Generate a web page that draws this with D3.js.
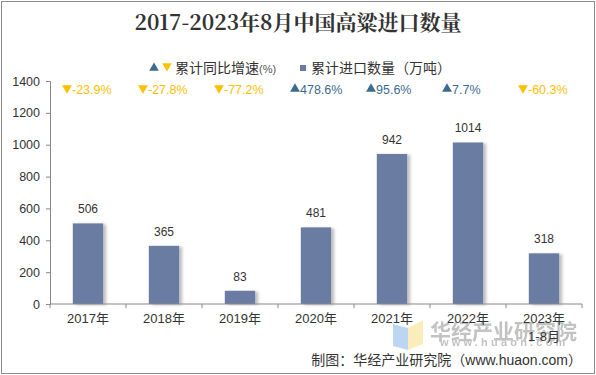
<!DOCTYPE html>
<html>
<head>
<meta charset="utf-8">
<script src="https://cdn.jsdelivr.net/npm/d3@7"></script>
<style>
  body { margin: 0; background: #fff; }
  svg text { font-family: "Liberation Sans", Arial, "Noto Sans CJK SC", sans-serif; }
</style>
</head>
<body>
<div id="chart"></div>
<script>
'use strict';

// data
const years = ["2017年", "2018年", "2019年", "2020年", "2021年", "2022年", "2023年"];
const volumes = [506, 365, 83, 481, 942, 1014, 318];   // 累计进口数量（万吨）
const growth = [-23.9, -27.8, -77.2, 478.6, 95.6, 7.7, -60.3]; // 累计同比增速(%)
const yTicks = [0, 200, 400, 600, 800, 1000, 1200, 1400];

const width = 596, height = 375;
const margin = { top: 81, right: 14, bottom: 71, left: 50 };
const barColor = "#6a7ba2";
const upColor = "#3b6b8e";
const downColor = "#ffc000";

const svg = d3.select("#chart")
	.append("svg")
		.attr("width", width)
		.attr("height", height);

// outer frame
svg.append("rect")
	.attr("x", 1.5).attr("y", 1.5)
	.attr("width", width - 3).attr("height", height - 3)
	.attr("fill", "#fff")
	.attr("stroke", "#8c8c8c");

// title
svg.append("text")
	.attr("x", 298)
	.attr("y", 30)
	.attr("text-anchor", "middle")
	.style("font-family", "'Noto Serif CJK SC', 'Liberation Serif', 'Noto Sans CJK SC', serif")
	.attr("font-size", 21)
	.attr("font-weight", "bold")
	.attr("fill", "#333")
	.text("2017-2023年8月中国高粱进口数量");

const x = d3.scaleBand()
	.domain(years)
	.range([margin.left, width - margin.right])
	.paddingInner(0.6)
	.paddingOuter(0.3);

const y = d3.scaleLinear()
	.domain([0, 1400])
	.range([height - margin.bottom, margin.top]);

// legend
const legend = svg.append("g").attr("transform", "translate(0,68)");
const tri = d3.symbol().type(d3.symbolTriangle).size(40);
legend.append("path").attr("d", tri).attr("fill", upColor)
	.attr("transform", "translate(154,0)");
legend.append("path").attr("d", tri).attr("fill", downColor)
	.attr("transform", "translate(167,-2) rotate(180)");
const lt = legend.append("text")
	.attr("x", 175).attr("y", 5)
	.attr("font-size", 14).attr("fill", "#333");
lt.append("tspan").text("累计同比增速");
lt.append("tspan").attr("font-size", 11).attr("fill", "#555").text("(%)");
legend.append("rect")
	.attr("x", 300).attr("y", -3)
	.attr("width", 6).attr("height", 6)
	.attr("fill", barColor);
legend.append("text")
	.attr("x", 311).attr("y", 5)
	.attr("font-size", 14).attr("fill", "#333")
	.text("累计进口数量（万吨）");

// bars with a soft shadow
const defs = svg.append("defs");
const filt = defs.append("filter").attr("id", "shadow")
	.attr("x", "-20%").attr("y", "-10%").attr("width", "150%").attr("height", "120%");
filt.append("feDropShadow")
	.attr("dx", 3).attr("dy", 1).attr("stdDeviation", 1.5)
	.attr("flood-color", "#000").attr("flood-opacity", 0.25);

svg.append("g")
	.selectAll("rect")
	.data(volumes)
	.join("rect")
		.attr("x", (d, i) => x(years[i]))
		.attr("y", d => y(d))
		.attr("width", x.bandwidth())
		.attr("height", d => y(0) - y(d))
		.attr("fill", barColor)
		.attr("filter", "url(#shadow)");

// value labels
svg.append("g")
	.selectAll("text")
	.data(volumes)
	.join("text")
		.attr("x", (d, i) => x(years[i]) + x.bandwidth() / 2)
		.attr("y", d => y(d) - 10)
		.attr("text-anchor", "middle")
		.attr("font-size", 12)
		.attr("fill", "#333")
		.text(d => d);

// growth labels along the top
const gl = svg.append("g")
	.selectAll("g")
	.data(growth)
	.join("g")
		.attr("transform", (d, i) => `translate(${x(years[i]) + x.bandwidth() / 2},89)`);
gl.append("path")
	.attr("d", d3.symbol().type(d3.symbolTriangle).size(42))
	.attr("transform", d => d < 0 ? "translate(-21,-1) rotate(180)" : "translate(-21,0)")
	.attr("fill", d => d < 0 ? downColor : upColor);
gl.append("text")
	.attr("x", -16).attr("y", 4.5)
	.attr("font-size", 12.5)
	.attr("fill", d => d < 0 ? downColor : upColor)
	.text(d => (d < 0 ? "-" : "") + Math.abs(d) + "%");

// axes
const yAxis = svg.append("g")
	.attr("transform", `translate(${margin.left},0)`)
	.call(d3.axisLeft(y).tickValues(yTicks).tickFormat(d3.format("d")).tickSize(4).tickPadding(6));
yAxis.selectAll("text").attr("font-size", 12.5).attr("fill", "#333");
yAxis.selectAll("line, path").attr("stroke", "#888");

const xAxis = svg.append("g")
	.attr("transform", `translate(0,${y(0)})`)
	.call(d3.axisBottom(x).tickSize(0).tickPadding(10));
xAxis.select(".domain").attr("d", `M${margin.left},0H${width - margin.right}`).attr("stroke", "#888");
xAxis.selectAll("text").attr("font-size", 13).attr("fill", "#333");
// category boundary ticks
const step = (width - margin.right - margin.left) / years.length;
xAxis.append("g")
	.selectAll("line")
	.data(d3.range(years.length + 1))
	.join("line")
		.attr("x1", i => margin.left + i * step)
		.attr("x2", i => margin.left + i * step)
		.attr("y1", 0).attr("y2", 4)
		.attr("stroke", "#888");

// watermark (drawn under the last labels)
const wm = svg.append("g").attr("opacity", 0.6);
wm.append("path").attr("d", "M393,324L408,328L408,350L393,346Z").attr("fill", "#8fbcec");
wm.append("path").attr("d", "M408,328L423,320L423,344L408,350Z").attr("fill", "#f7e08f");
wm.append("text").attr("x", 430).attr("y", 339)
	.attr("font-size", 21).attr("font-weight", "bold").attr("fill", "#9a9a9a")
	.style("font-family", "'Noto Sans CJK SC', sans-serif")
	.text("华经产业研究院");
wm.append("text").attr("x", 440).attr("y", 346)
	.attr("font-size", 11).attr("font-weight", "bold").attr("fill", "#9a9a9a")
	.attr("letter-spacing", 3.2)
	.text("www.huaon.com");
xAxis.raise();

xAxis.append("text")
	.attr("x", x("2023年") + x.bandwidth() / 2)
	.attr("y", 37)
	.attr("text-anchor", "middle")
	.attr("font-size", 13)
	.attr("fill", "#333")
	.text("1-8月");

// source footer
svg.append("text")
	.attr("x", 582)
	.attr("y", 365)
	.attr("text-anchor", "end")
	.attr("font-size", 14)
	.attr("fill", "#333")
	.text("制图：华经产业研究院（www.huaon.com）");
</script>
</body>
</html>
